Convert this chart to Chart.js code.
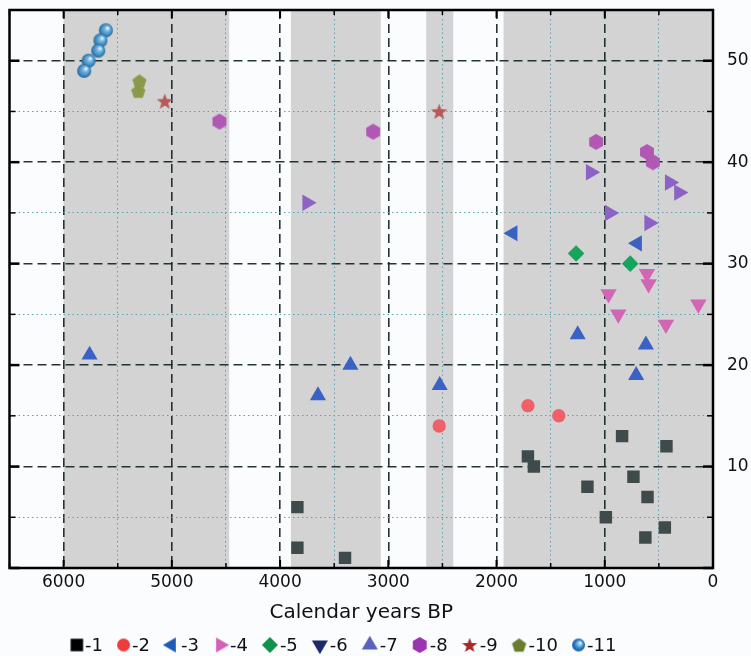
<!DOCTYPE html>
<html>
<head>
<meta charset="utf-8">
<script src="https://cdn.jsdelivr.net/npm/chart.js@4/dist/chart.umd.min.js"></script>
<style>
  html, body { margin: 0; padding: 0; background: #fbfcfe; }
  canvas { display: block; }
</style>
</head>
<body>
<canvas id="chartAmostras" width="751" height="656"></canvas>
<script>
// idade (anos BP) e número da amostra
const anos1 = [3840, 3840, 3400, 1710, 1655, 1160, 840, 735, 990, 605, 430, 445, 625];
const amostras1 = [6, 2, 1, 11, 10, 8, 13, 9, 5, 7, 12, 4, 3];
const anos2 = [2530, 1710, 1425];
const amostras2 = [14, 16, 15];
const anos3 = [1850, 700];
const amostras3 = [33, 32];
const anos4 = [610, 595, 965, 875, 435, 135];
const amostras4 = [29, 28, 27, 25, 24, 26];
const anos5 = [1265, 765];
const amostras5 = [31, 30];
const anos6 = [3750, 1130, 955, 400, 315, 590];
const amostras6 = [36, 39, 35, 38, 37, 34];
const anos7 = [5760, 3650, 3350, 2525, 1250, 620, 710];
const amostras7 = [21, 17, 20, 18, 23, 22, 19];
const anos8 = [4560, 3140, 1080, 610, 555];
const amostras8 = [44, 43, 42, 41, 40];
const anos9 = [5065, 2530];
const amostras9 = [46, 45];
const anos10 = [5300, 5310];
const amostras10 = [48, 47];
const anos11 = [5610, 5660, 5680, 5770, 5810];
const amostras11 = [53, 52, 51, 50, 49];

const rotulos = ['-1', '-2', '-3', '-4', '-5', '-6', '-7', '-8', '-9', '-10', '-11'];

// períodos sombreados (anos BP)
const faixasCinza = [[6000, 4470], [3900, 3070], [2650, 2400], [1935, 0]];

const fonte = '"DejaVu Sans", sans-serif';
Chart.defaults.font.family = fonte;
Chart.defaults.color = '#111';

function pontos(anos, amostras) {
  return anos.map((a, i) => ({ x: a, y: amostras[i] }));
}

// desenha um marcador num canvas pequeno (usado como pointStyle e na legenda)
function criarMarcador(forma, cor, tamanho) {
  const c = document.createElement('canvas');
  c.width = c.height = Math.ceil(tamanho) + 4;
  const ctx = c.getContext('2d');
  const m = c.width / 2;
  const r = tamanho / 2;
  ctx.translate(m, m);
  ctx.fillStyle = cor;
  ctx.beginPath();
  if (forma === 'quadrado') {
    ctx.rect(-r, -r, tamanho, tamanho);
  } else if (forma === 'circulo') {
    ctx.arc(0, 0, r, 0, Math.PI * 2);
  } else if (forma.startsWith('tri')) {
    const rot = { triCima: 0, triDir: 90, triBaixo: 180, triEsq: 270 }[forma];
    const rr = tamanho / Math.sqrt(3);
    ctx.rotate(rot * Math.PI / 180);
    ctx.moveTo(0, -rr);
    ctx.lineTo(rr * 0.866, rr / 2);
    ctx.lineTo(-rr * 0.866, rr / 2);
    ctx.closePath();
  } else if (forma === 'losango') {
    ctx.moveTo(0, -r); ctx.lineTo(r, 0); ctx.lineTo(0, r); ctx.lineTo(-r, 0);
    ctx.closePath();
  } else if (forma === 'hexagono') {
    for (let i = 0; i < 6; i++) {
      const ang = -Math.PI / 2 + i * Math.PI / 3;
      ctx.lineTo(r * Math.cos(ang), r * Math.sin(ang));
    }
    ctx.closePath();
  } else if (forma === 'pentagono') {
    for (let i = 0; i < 5; i++) {
      const ang = -Math.PI / 2 + i * 2 * Math.PI / 5;
      ctx.lineTo(r * Math.cos(ang), r * Math.sin(ang) + r * 0.1);
    }
    ctx.closePath();
  } else if (forma === 'estrela') {
    for (let i = 0; i < 10; i++) {
      const ang = -Math.PI / 2 + i * Math.PI / 5;
      const rr = i % 2 === 0 ? r : r * 0.42;
      ctx.lineTo(rr * Math.cos(ang), rr * Math.sin(ang) + r * 0.08);
    }
    ctx.closePath();
  } else if (forma === 'esfera') {
    const g = ctx.createRadialGradient(r * 0.3, -r * 0.35, r * 0.05, 0, 0, r);
    g.addColorStop(0, '#eef7fc');
    g.addColorStop(0.35, '#72b2de');
    g.addColorStop(0.75, cor);
    g.addColorStop(1, '#245f8e');
    ctx.fillStyle = g;
    ctx.arc(0, 0, r, 0, Math.PI * 2);
  }
  ctx.fill();
  return c;
}

const estiloLegenda = [
  ['quadrado', '#000000', 12.5],
  ['circulo', '#ee3b3b', 13],
  ['triEsq', '#1e5bb5', 15],
  ['triDir', '#d55fb5', 15],
  ['losango', '#11934a', 16],
  ['triBaixo', '#1c2a6a', 16],
  ['triCima', '#5a5fc0', 16],
  ['hexagono', '#9b34b0', 16],
  ['estrela', '#a52a2a', 16],
  ['pentagono', '#6b7d2c', 15],
  ['esfera', '#1a70c0', 13]
];

const faixasPlugin = {
  id: 'faixasCinza',
  beforeDraw(chart) {
    const { ctx, chartArea, scales: { x } } = chart;
    ctx.save();
    ctx.fillStyle = '#d3d3d3';
    faixasCinza.forEach(([ini, fim]) => {
      const x1 = x.getPixelForValue(ini);
      const x2 = x.getPixelForValue(fim);
      ctx.fillRect(Math.min(x1, x2), chartArea.top, Math.abs(x2 - x1), chartArea.bottom - chartArea.top);
    });
    ctx.restore();
  }
};

const molduraPlugin = {
  id: 'moldura',
  afterDraw(chart) {
    const { ctx, chartArea: a, scales: { x, y } } = chart;
    ctx.save();
    ctx.strokeStyle = '#000';
    const linha = (x1, y1, x2, y2) => {
      ctx.beginPath(); ctx.moveTo(x1, y1); ctx.lineTo(x2, y2); ctx.stroke();
    };
    x.ticks.forEach(t => {
      const px = x.getPixelForValue(t.value);
      const maior = t.value % 1000 === 0;
      const len = maior ? 8 : 5;
      ctx.lineWidth = maior ? 2 : 1.5;
      linha(px, a.top, px, a.top + len);
      linha(px, a.bottom, px, a.bottom - len);
    });
    y.ticks.forEach(t => {
      const py = y.getPixelForValue(t.value);
      const maior = t.value % 10 === 0;
      const len = maior ? 10 : 6;
      ctx.lineWidth = maior ? 2.5 : 1.5;
      linha(a.left, py, a.left + len, py);
      linha(a.right, py, a.right - len, py);
    });
    ctx.lineWidth = 2.5;
    ctx.strokeRect(a.left, a.top, a.right - a.left, a.bottom - a.top);

    // legenda
    ctx.font = '18px ' + fonte;
    ctx.fillStyle = '#111';
    ctx.textBaseline = 'middle';
    const itens = rotulos.map((r, i) => {
      const [forma, cor, tam] = estiloLegenda[i];
      return { texto: r, img: criarMarcador(forma, cor, tam), tam: tam, larg: ctx.measureText(r).width };
    });
    const folgaTexto = 2;
    const folgaItem = 14;
    let total = 0;
    itens.forEach((it, i) => {
      total += it.tam + folgaTexto + it.larg + (i < itens.length - 1 ? folgaItem : 0);
    });
    let cx = 343.5 - total / 2;
    const cy = 645;
    itens.forEach(it => {
      ctx.drawImage(it.img, cx + it.tam / 2 - it.img.width / 2, cy - it.img.height / 2);
      cx += it.tam + folgaTexto;
      ctx.fillText(it.texto, cx, cy + 1);
      cx += it.larg + folgaItem;
    });
    ctx.restore();
  }
};

const corGrade = (valor, passo) => valor % passo === 0 ? 'rgba(25, 40, 40, 0.95)' : '#5d9fb0';
const larguraGrade = (valor, passo) => valor % passo === 0 ? 1.6 : 1;
const tracoGrade = (ctx, passo) => {
  if (!ctx.tick) return [];
  return ctx.tick.value % passo === 0 ? [9, 5] : [1.5, 3];
};

const grafico = new Chart(document.getElementById('chartAmostras'), {
  type: 'scatter',
  data: {
    datasets: [
      { label: rotulos[0], data: pontos(anos1, amostras1), pointStyle: 'rect', pointRadius: 8.8, pointBackgroundColor: '#3f4b4b' },
      { label: rotulos[1], data: pontos(anos2, amostras2), pointStyle: 'circle', pointRadius: 6.7, pointBackgroundColor: '#f06068' },
      { label: rotulos[2], data: pontos(anos3, amostras3), pointStyle: 'triangle', pointRotation: 270, pointRadius: 9.3, pointBackgroundColor: '#3b62c0' },
      { label: rotulos[3], data: pontos(anos4, amostras4), pointStyle: 'triangle', pointRotation: 180, pointRadius: 9.5, pointBackgroundColor: '#d066b4' },
      { label: rotulos[4], data: pontos(anos5, amostras5), pointStyle: 'rectRot', pointRadius: 8.3, pointBackgroundColor: '#17a45c' },
      { label: rotulos[5], data: pontos(anos6, amostras6), pointStyle: 'triangle', pointRotation: 90, pointRadius: 9.5, pointBackgroundColor: '#8c62c4' },
      { label: rotulos[6], data: pontos(anos7, amostras7), pointStyle: 'triangle', pointRadius: 9.3, pointBackgroundColor: '#3a62c4' },
      { label: rotulos[7], data: pontos(anos8, amostras8), pointStyle: criarMarcador('hexagono', '#b157b4', 16) },
      { label: rotulos[8], data: pontos(anos9, amostras9), pointStyle: criarMarcador('estrela', '#b85858', 17) },
      { label: rotulos[9], data: pontos(anos10, amostras10), pointStyle: criarMarcador('pentagono', '#8a9a48', 15) },
      { label: rotulos[10], data: pontos(anos11, amostras11), pointStyle: criarMarcador('esfera', '#3b8cc4', 14) }
    ].map(ds => Object.assign({ pointBorderWidth: 0, pointHoverRadius: ds.pointRadius }, ds))
  },
  options: {
    responsive: false,
    animation: false,
    layout: { padding: { left: 8, top: 10, right: 0, bottom: 0 } },
    plugins: {
      legend: { display: false },
      tooltip: { enabled: false }
    },
    scales: {
      x: {
        type: 'linear',
        reverse: true,
        min: 0,
        max: 6500,
        ticks: {
          stepSize: 500,
          autoSkip: false,
          maxRotation: 0,
          padding: 4,
          font: { size: 17 },
          callback: v => (v % 1000 === 0 ? String(v) : '')
        },
        grid: {
          drawTicks: false,
          color: ctx => corGrade(ctx.tick.value, 1000),
          lineWidth: ctx => larguraGrade(ctx.tick.value, 1000)
        },
        border: { display: false, dash: ctx => tracoGrade(ctx, 1000) },
        title: {
          display: true,
          text: 'Calendar years BP',
          font: { size: 20 },
          padding: { top: 0, bottom: 31 }
        },
        afterFit(scale) {
          scale.height = 88;
          scale.paddingLeft = 0;
          scale.paddingRight = 0;
        }
      },
      y: {
        position: 'right',
        min: 0,
        max: 55,
        ticks: {
          stepSize: 5,
          padding: 14,
          font: { size: 17 },
          callback: v => (v % 10 === 0 && v > 0 ? String(v) : '')
        },
        grid: {
          drawTicks: false,
          color: ctx => corGrade(ctx.tick.value, 10),
          lineWidth: ctx => larguraGrade(ctx.tick.value, 10)
        },
        border: { display: false, dash: ctx => tracoGrade(ctx, 10) },
        afterFit(scale) {
          scale.width = 38;
          scale.paddingTop = 0;
          scale.paddingBottom = 0;
        }
      }
    }
  },
  plugins: [faixasPlugin, molduraPlugin]
});
</script>
</body>
</html>
